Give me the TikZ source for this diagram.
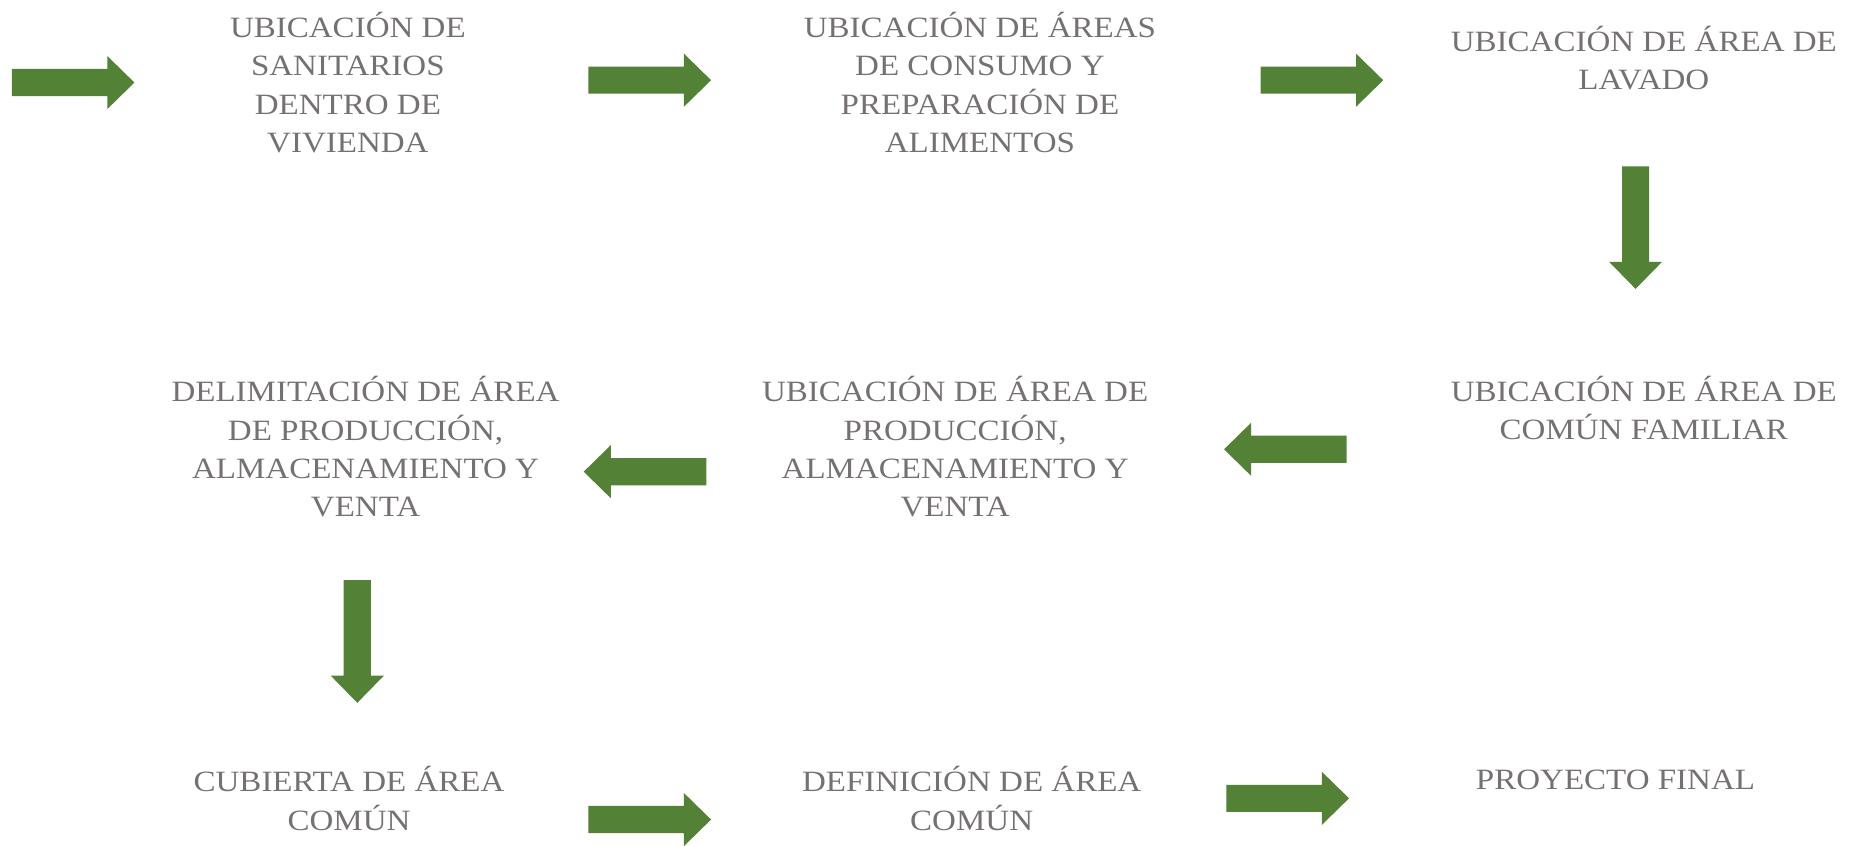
\documentclass[tikz,border=0pt]{standalone}
\usepackage{fontspec}
\setmainfont{Liberation Serif}[FakeStretch=1.12]
\definecolor{Leaf}{HTML}{538135}
\definecolor{Ash}{HTML}{767171}

\begin{document}
\begin{tikzpicture}[x=1pt,y=-1pt,
  stage/.style={text=Ash,align=center,inner sep=0pt,font=\fontsize{25}{32.5}\selectfont},
  blk/.pic={\fill[Leaf] (0,-11.5)--(81,-11.5)--(81,-22.5)--(104,0)--(81,22.5)--(81,11.5)--(0,11.5)--cycle;}]
  \useasboundingbox (0,0) rectangle (1568,717);
  % stages
  \node[stage] (sanit) at (295,70) {UBICACIÓN DE\\SANITARIOS\\DENTRO DE\\VIVIENDA};
  \node[stage] (consumo) at (831,70) {UBICACIÓN DE ÁREAS\\DE CONSUMO Y\\PREPARACIÓN DE\\ALIMENTOS};
  \node[stage] (lavado) at (1394,49) {UBICACIÓN DE ÁREA DE\\LAVADO};
  \node[stage] (familiar) at (1394,346) {UBICACIÓN DE ÁREA DE\\COMÚN FAMILIAR};
  \node[stage] (prodvta) at (810,379) {UBICACIÓN DE ÁREA DE\\PRODUCCIÓN,\\ALMACENAMIENTO Y\\VENTA};
  \node[stage] (delim) at (310,379) {DELIMITACIÓN DE ÁREA\\DE PRODUCCIÓN,\\ALMACENAMIENTO Y\\VENTA};
  \node[stage] (cubierta) at (296,677) {CUBIERTA DE ÁREA\\COMÚN};
  \node[stage] (defin) at (824,677) {DEFINICIÓN DE ÁREA\\COMÚN};
  \node[stage] (final) at (1370,661) {PROYECTO FINAL};
  % block arrows
  \pic at (10,70) {blk};
  \pic at (499,68) {blk};
  \pic at (1069,68) {blk};
  \pic[rotate=-90] at (1387,141) {blk};
  \pic[rotate=180] at (1142,381) {blk};
  \pic[rotate=180] at (599,400) {blk};
  \pic[rotate=-90] at (303,492) {blk};
  \pic at (499,695) {blk};
  \pic at (1040,677) {blk};
\end{tikzpicture}
\end{document}
